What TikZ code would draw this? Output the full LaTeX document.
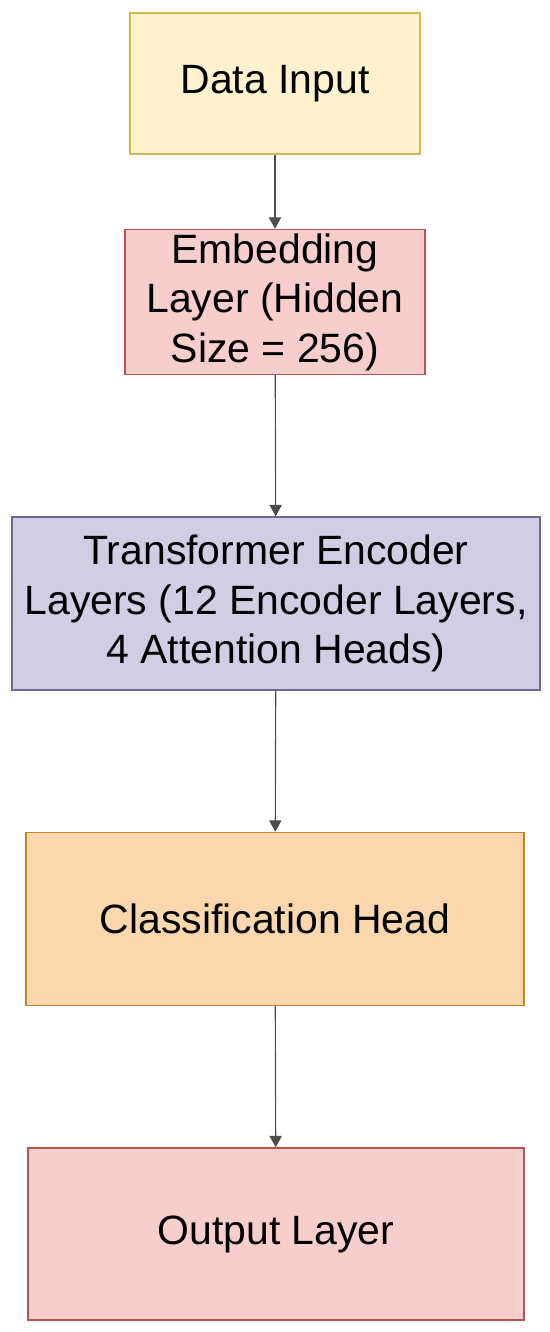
\documentclass[tikz,border=0pt]{standalone}
\usepackage{xcolor}
\usepackage{fontspec}
\setmainfont{Liberation Sans}
\usepackage{tikz}
\usetikzlibrary{
  arrows.meta,
  positioning
}
\definecolor{amareloF}{HTML}{FFF2CC}
\definecolor{amareloB}{HTML}{D6B656}
\definecolor{rosaF}{HTML}{F8CECC}
\definecolor{rosaB}{HTML}{B85450}
\definecolor{roxoF}{HTML}{D0CEE2}
\definecolor{roxoB}{HTML}{6C6893}
\definecolor{laranjaF}{HTML}{FAD7AC}
\definecolor{laranjaB}{HTML}{C9832A}

\begin{document}
\begin{tikzpicture}[
      >=Stealth,
      node distance=2.82cm,
      camada/.style={draw, line width=0.85pt, align=center, inner sep=0pt, font=\fontsize{23.3}{28.2}\selectfont},
      seta/.style={-{Triangle[length=6.5pt, width=7pt]}, line width=0.65pt, draw=black!70}
  ]
      \useasboundingbox (0,0) rectangle (11,-26.64);

      % Camadas
      \node[camada, fill=amareloF, draw=amareloB, minimum width=5.8cm, minimum height=2.82cm] (entrada) at (5.5,-1.67) {Data Input};
      \node[camada, fill=rosaF, draw=rosaB, minimum width=6.0cm, minimum height=2.9cm, below=1.48cm of entrada] (embed) {Embedding\\Layer (Hidden\\Size = 256)};
      \node[camada, fill=roxoF, draw=roxoB, minimum width=10.56cm, minimum height=3.46cm, below=of embed, xshift=0.02cm] (encoder) {Transformer Encoder\\Layers (12 Encoder Layers,\\4 Attention Heads)};
      \node[camada, fill=laranjaF, draw=laranjaB, minimum width=9.96cm, minimum height=3.46cm, below=of encoder, xshift=-0.02cm] (classif) {Classification Head};
      \node[camada, fill=rosaF, draw=rosaB, minimum width=9.92cm, minimum height=3.44cm, below=of classif, xshift=0.02cm] (saida) {Output Layer};

      \draw[seta] (entrada) -- (embed);
      \draw[seta] (embed) -- (encoder);
      \draw[seta] (encoder) -- (classif);
      \draw[seta] (classif) -- (saida);

\end{tikzpicture}
\end{document}
